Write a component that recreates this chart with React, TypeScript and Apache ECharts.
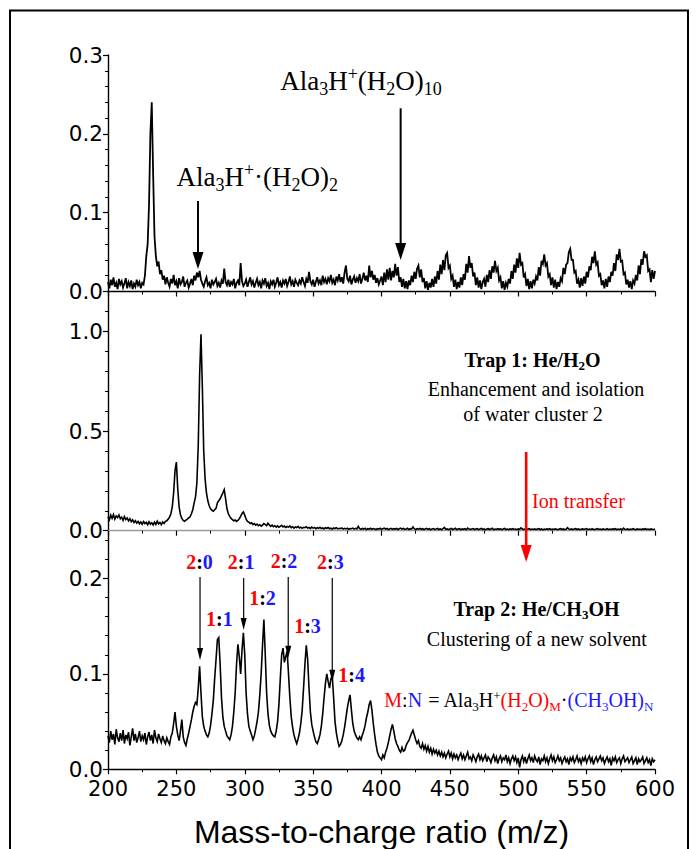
import React, { useEffect, useRef } from 'react';
import * as echarts from 'echarts';

// ---------- DATA ----------
// Sampling grid of the spectra: m/z 200..600, one value per m/z unit
const MZ_START = 200;
const MZ_END = 600;

// Panel 1: no trapping gas (intensity, arb. units)
const panel1Values = [
  0.012, 0.004, 0.015, 0.008, 0.018, 0.006, 0.011, 0.003, 0.016, 0.009,
  0.013, 0.005, 0.010, 0.017, 0.004, 0.012, 0.007, 0.014, 0.003, 0.010,
  0.006, 0.015, 0.008, 0.012, 0.004, 0.011, 0.009, 0.020, 0.045, 0.060,
  0.110, 0.200, 0.240, 0.150, 0.070, 0.045, 0.032, 0.038, 0.022, 0.027,
  0.015, 0.020, 0.009, 0.018, 0.011, 0.006, 0.016, 0.010, 0.021, 0.008,
  0.013, 0.004, 0.017, 0.009, 0.012, 0.019, 0.006, 0.011, 0.014, 0.005,
  0.010, 0.016, 0.008, 0.020, 0.014, 0.024, 0.018, 0.026, 0.015, 0.010,
  0.006, 0.013, 0.018, 0.008, 0.011, 0.004, 0.015, 0.009, 0.012, 0.016,
  0.007, 0.011, 0.005, 0.014, 0.010, 0.029, 0.012, 0.008, 0.015, 0.006,
  0.012, 0.009, 0.016, 0.004, 0.011, 0.014, 0.008, 0.036, 0.013, 0.007,
  0.010, 0.015, 0.006, 0.012, 0.018, 0.009, 0.013, 0.005, 0.011, 0.016,
  0.008, 0.012, 0.004, 0.014, 0.010, 0.017, 0.007, 0.011, 0.003, 0.013,
  0.009, 0.015, 0.006, 0.011, 0.018, 0.008, 0.012, 0.005, 0.014, 0.010,
  0.016, 0.007, 0.012, 0.019, 0.009, 0.013, 0.006, 0.015, 0.011, 0.008,
  0.014, 0.010, 0.018, 0.012, 0.007, 0.016, 0.011, 0.025, 0.013, 0.009,
  0.015, 0.006, 0.012, 0.018, 0.010, 0.014, 0.008, 0.020, 0.012, 0.016,
  0.009, 0.017, 0.013, 0.021, 0.011, 0.015, 0.008, 0.019, 0.014, 0.022,
  0.012, 0.018, 0.010, 0.024, 0.033, 0.016, 0.013, 0.020, 0.009, 0.015,
  0.019, 0.011, 0.017, 0.013, 0.022, 0.010, 0.016, 0.024, 0.014, 0.020,
  0.012, 0.033, 0.018, 0.026, 0.015, 0.021, 0.011, 0.017, 0.009, 0.014,
  0.019, 0.008, 0.024, 0.012, 0.028, 0.015, 0.030, 0.014, 0.026, 0.018,
  0.035, 0.020, 0.031, 0.012, 0.018, 0.006, 0.016, 0.004, 0.013, 0.003,
  0.014, 0.008, 0.020, 0.012, 0.025, 0.016, 0.029, 0.033, 0.018, 0.028,
  0.012, 0.017, 0.004, 0.013, 0.002, 0.011, 0.005, 0.016, 0.006, 0.019,
  0.010, 0.026, 0.015, 0.034, 0.022, 0.040, 0.027, 0.046, 0.049, 0.030,
  0.033, 0.016, 0.020, 0.006, 0.015, 0.003, 0.012, 0.005, 0.018, 0.008,
  0.022, 0.015, 0.035, 0.024, 0.045, 0.030, 0.036, 0.019, 0.024, 0.008,
  0.018, 0.005, 0.014, 0.003, 0.012, 0.016, 0.006, 0.021, 0.012, 0.027,
  0.016, 0.032, 0.024, 0.039, 0.026, 0.030, 0.014, 0.018, 0.004, 0.013,
  0.002, 0.011, 0.006, 0.016, 0.010, 0.026, 0.016, 0.034, 0.024, 0.042,
  0.030, 0.049, 0.034, 0.036, 0.018, 0.022, 0.007, 0.016, 0.003, 0.013,
  0.004, 0.015, 0.010, 0.019, 0.014, 0.031, 0.020, 0.039, 0.035, 0.047,
  0.033, 0.036, 0.019, 0.022, 0.008, 0.018, 0.005, 0.015, 0.003, 0.012,
  0.006, 0.017, 0.013, 0.030, 0.022, 0.034, 0.036, 0.050, 0.054, 0.040,
  0.040, 0.024, 0.026, 0.010, 0.015, 0.005, 0.017, 0.007, 0.019, 0.010,
  0.025, 0.018, 0.032, 0.027, 0.044, 0.036, 0.051, 0.034, 0.037, 0.020,
  0.022, 0.008, 0.014, 0.004, 0.016, 0.006, 0.019, 0.012, 0.025, 0.020,
  0.036, 0.026, 0.047, 0.040, 0.054, 0.038, 0.039, 0.022, 0.024, 0.009,
  0.015, 0.005, 0.013, 0.003, 0.014, 0.010, 0.021, 0.014, 0.033, 0.022,
  0.041, 0.034, 0.051, 0.044, 0.046, 0.026, 0.028, 0.012, 0.027, 0.016,
  0.026,
];

// Panel 2: Trap 1 He/H2O
const panel2Values = [
  0.070, 0.055, 0.078, 0.062, 0.081, 0.058, 0.074, 0.066, 0.079, 0.060,
  0.068, 0.052, 0.071, 0.056, 0.064, 0.049, 0.060, 0.045, 0.055, 0.041,
  0.050, 0.038, 0.047, 0.035, 0.044, 0.032, 0.046, 0.036, 0.042, 0.030,
  0.045, 0.033, 0.040, 0.029, 0.043, 0.031, 0.048, 0.034, 0.041, 0.030,
  0.044, 0.036, 0.047, 0.050, 0.058, 0.068, 0.085, 0.120, 0.190, 0.300,
  0.344, 0.210, 0.120, 0.080, 0.062, 0.052, 0.047, 0.053, 0.058, 0.064,
  0.070, 0.085, 0.105, 0.140, 0.170, 0.240, 0.430, 0.780, 0.985, 0.720,
  0.400, 0.260, 0.190, 0.150, 0.125, 0.110, 0.102, 0.098, 0.105, 0.112,
  0.140, 0.150, 0.160, 0.175, 0.190, 0.206, 0.160, 0.110, 0.085, 0.072,
  0.062, 0.056, 0.050, 0.054, 0.047, 0.052, 0.060, 0.072, 0.086, 0.094,
  0.078, 0.058, 0.047, 0.043, 0.036, 0.040, 0.031, 0.036, 0.028, 0.033,
  0.025, 0.030, 0.023, 0.028, 0.036, 0.031, 0.025, 0.038, 0.029, 0.022,
  0.028, 0.020, 0.025, 0.018, 0.024, 0.017, 0.022, 0.027, 0.019, 0.023,
  0.016, 0.021, 0.018, 0.024, 0.015, 0.020, 0.013, 0.019, 0.016, 0.022,
  0.014, 0.018, 0.012, 0.017, 0.015, 0.020, 0.013, 0.016, 0.011, 0.018,
  0.013, 0.016, 0.010, 0.015, 0.012, 0.017, 0.011, 0.014, 0.009, 0.015,
  0.012, 0.016, 0.010, 0.013, 0.008, 0.014, 0.011, 0.015, 0.009, 0.012,
  0.010, 0.014, 0.008, 0.012, 0.009, 0.013, 0.007, 0.011, 0.010, 0.013,
  0.008, 0.012, 0.009, 0.022, 0.010, 0.007, 0.011, 0.008, 0.012, 0.006,
  0.010, 0.008, 0.012, 0.007, 0.011, 0.009, 0.006, 0.010, 0.008, 0.012,
  0.007, 0.010, 0.013, 0.008, 0.011, 0.006, 0.009, 0.012, 0.007, 0.010,
  0.008, 0.011, 0.006, 0.010, 0.013, 0.008, 0.011, 0.007, 0.009, 0.012,
  0.006, 0.010, 0.008, 0.019, 0.009, 0.006, 0.010, 0.008, 0.011, 0.007,
  0.010, 0.006, 0.009, 0.012, 0.007, 0.010, 0.005, 0.009, 0.011, 0.006,
  0.008, 0.011, 0.006, 0.009, 0.005, 0.010, 0.016, 0.007, 0.009, 0.005,
  0.008, 0.011, 0.006, 0.009, 0.012, 0.006, 0.008, 0.010, 0.005, 0.009,
  0.007, 0.010, 0.005, 0.013, 0.008, 0.006, 0.009, 0.011, 0.006, 0.008,
  0.010, 0.005, 0.008, 0.011, 0.006, 0.009, 0.004, 0.008, 0.010, 0.006,
  0.009, 0.012, 0.005, 0.008, 0.006, 0.010, 0.007, 0.009, 0.005, 0.008,
  0.011, 0.006, 0.008, 0.005, 0.009, 0.007, 0.010, 0.006, 0.008, 0.005,
  0.009, 0.007, 0.014, 0.008, 0.005, 0.009, 0.006, 0.008, 0.010, 0.005,
  0.008, 0.006, 0.009, 0.005, 0.008, 0.010, 0.006, 0.009, 0.004, 0.008,
  0.006, 0.009, 0.007, 0.010, 0.005, 0.008, 0.006, 0.009, 0.007, 0.005,
  0.008, 0.010, 0.006, 0.009, 0.005, 0.007, 0.015, 0.008, 0.006, 0.009,
  0.005, 0.008, 0.010, 0.006, 0.009, 0.005, 0.007, 0.009, 0.006, 0.008,
  0.010, 0.005, 0.008, 0.006, 0.009, 0.007, 0.005, 0.008, 0.010, 0.006,
  0.008, 0.005, 0.009, 0.007, 0.006, 0.010, 0.005, 0.008, 0.006, 0.009,
  0.007, 0.010, 0.005, 0.008, 0.006, 0.009, 0.005, 0.013, 0.007, 0.006,
  0.009, 0.005, 0.008, 0.006, 0.010, 0.007, 0.005, 0.009, 0.006, 0.008,
  0.005, 0.009, 0.007, 0.010, 0.006, 0.008, 0.005, 0.009, 0.007, 0.006,
  0.008,
];

// Panel 3: Trap 2 He/CH3OH
const panel3Values = [
  0.035, 0.028, 0.040, 0.031, 0.037, 0.026, 0.042, 0.033, 0.029, 0.038,
  0.030, 0.041, 0.027, 0.036, 0.032, 0.039, 0.025, 0.034, 0.043, 0.030,
  0.037, 0.028, 0.033, 0.040, 0.029, 0.035, 0.031, 0.038, 0.026, 0.034,
  0.039, 0.030, 0.036, 0.027, 0.041, 0.033, 0.029, 0.037, 0.032, 0.028,
  0.035, 0.030, 0.027, 0.033, 0.029, 0.026, 0.034, 0.038, 0.048, 0.060,
  0.045, 0.036, 0.030, 0.040, 0.052, 0.034, 0.028, 0.025, 0.032, 0.038,
  0.045, 0.052, 0.060, 0.066, 0.070, 0.068, 0.085, 0.108, 0.080, 0.055,
  0.045, 0.040, 0.036, 0.034, 0.038, 0.046, 0.058, 0.072, 0.095, 0.115,
  0.136, 0.138, 0.110, 0.075, 0.055, 0.045, 0.040, 0.035, 0.033, 0.031,
  0.036, 0.045, 0.060, 0.080, 0.110, 0.131, 0.118, 0.100, 0.125, 0.143,
  0.120, 0.080, 0.058, 0.045, 0.040, 0.036, 0.031, 0.035, 0.042, 0.050,
  0.060, 0.078, 0.100, 0.130, 0.157, 0.120, 0.080, 0.058, 0.046, 0.040,
  0.037, 0.035, 0.034, 0.040, 0.050, 0.068, 0.095, 0.120, 0.127, 0.112,
  0.118, 0.124, 0.100, 0.075, 0.055, 0.044, 0.036, 0.031, 0.027, 0.032,
  0.038, 0.048, 0.062, 0.085, 0.110, 0.130, 0.115, 0.085, 0.060, 0.047,
  0.040, 0.034, 0.029, 0.027, 0.031, 0.036, 0.045, 0.058, 0.075, 0.090,
  0.100, 0.092, 0.085, 0.095, 0.098, 0.075, 0.050, 0.038, 0.030, 0.024,
  0.026, 0.030, 0.036, 0.044, 0.054, 0.064, 0.072, 0.078, 0.062, 0.048,
  0.040, 0.036, 0.033, 0.031, 0.034, 0.031, 0.036, 0.040, 0.046, 0.054,
  0.060, 0.068, 0.072, 0.062, 0.048, 0.036, 0.026, 0.018, 0.014, 0.012,
  0.010, 0.015, 0.012, 0.018, 0.022, 0.028, 0.035, 0.042, 0.047, 0.040,
  0.032, 0.027, 0.024, 0.020, 0.018, 0.023, 0.019, 0.020, 0.025, 0.028,
  0.030, 0.034, 0.038, 0.041, 0.036, 0.031, 0.027, 0.030, 0.024, 0.022,
  0.027, 0.021, 0.025, 0.019, 0.024, 0.018, 0.022, 0.016, 0.021, 0.017,
  0.020, 0.015, 0.019, 0.014, 0.018, 0.013, 0.017, 0.012, 0.016, 0.019,
  0.013, 0.017, 0.011, 0.016, 0.012, 0.015, 0.010, 0.014, 0.017, 0.011,
  0.015, 0.010, 0.014, 0.018, 0.011, 0.013, 0.009, 0.015, 0.012, 0.008,
  0.013, 0.016, 0.010, 0.014, 0.009, 0.012, 0.015, 0.008, 0.013, 0.011,
  0.007, 0.012, 0.015, 0.009, 0.013, 0.006, 0.011, 0.014, 0.008, 0.012,
  0.010, 0.015, 0.008, 0.012, 0.006, 0.011, 0.014, 0.009, 0.013, 0.007,
  0.012, 0.002, 0.010, 0.014, 0.008, 0.013, 0.006, 0.011, 0.015, 0.009,
  0.012, 0.007, 0.014, 0.010, 0.008, 0.013, 0.005, 0.011, 0.009, 0.014,
  0.008, 0.012, 0.006, 0.011, 0.015, 0.009, 0.013, 0.007, 0.010, 0.014,
  0.009, 0.012, 0.006, 0.010, 0.013, 0.008, 0.011, 0.005, 0.012, 0.009,
  0.013, 0.007, 0.010, 0.014, 0.008, 0.011, 0.006, 0.012, 0.009, 0.013,
  0.007, 0.011, 0.014, 0.008, 0.012, 0.005, 0.010, 0.013, 0.008, 0.011,
  0.014, 0.009, 0.012, 0.006, 0.010, 0.013, 0.008, 0.011, 0.004, 0.012,
  0.009, 0.013, 0.007, 0.010, 0.012, 0.006, 0.011, 0.014, 0.008, 0.010,
  0.012, 0.007, 0.010, 0.013, 0.006, 0.009, 0.012, 0.005, 0.011, 0.008,
  0.010, 0.013, 0.006, 0.009, 0.012, 0.007, 0.010, 0.004, 0.011, 0.008,
  0.010,
];

// Axis ticks
const xTickStep = 50;
const p1YMax = 0.3;
const p2YMax = 1.2;
const p3YMax = 0.25;
const p1YTicks = [0, 0.1, 0.2, 0.3];
const p2YTicks = [0, 0.5, 1.0];
const p3YTicks = [0, 0.1, 0.2];
const p1YMinor = [0.02, 0.04, 0.06, 0.08, 0.12, 0.14, 0.16, 0.18, 0.22, 0.24, 0.26, 0.28];
const p2YMinor = [0.1, 0.2, 0.3, 0.4, 0.6, 0.7, 0.8, 0.9, 1.1];
const p3YMinor = [0.02, 0.04, 0.06, 0.08, 0.12, 0.14, 0.16, 0.18, 0.22, 0.24];

const xTitle = 'Mass-to-charge ratio (m/z)';

// Annotation arrows: [m/z, value at tail, value at tip]
const p1Arrows = [
  [265.8, 0.1148, 0.0285],
  [414.0, 0.2324, 0.040],
];
const p3Arrows = [
  [267.3, 0.2015, 0.1145],
  [299.2, 0.2004, 0.1459],
  [331.8, 0.2015, 0.1169],
  [364.0, 0.2004, 0.0918],
];
// Ion transfer arrow: m/z, tail value in panel 2, tip value in panel 3
const ionTransfer = { mz: 505.8, from: 0.3948, to: 0.2172 };

// M:N assignment labels (panel 3): [M, N, m/z, value]
const mnLabels = [
  ['2', '0', 266.9, 0.2175],
  ['2', '1', 297.3, 0.2172],
  ['2', '2', 328.7, 0.2186],
  ['2', '3', 362.6, 0.2172],
  ['1', '1', 281.5, 0.1575],
  ['1', '2', 313.0, 0.1795],
  ['1', '3', 345.9, 0.1502],
  ['1', '4', 378.1, 0.0988],
];

// ---------- STYLE ----------
const SERIF = '"Liberation Serif", "Times New Roman", serif';
const SANS = '"Liberation Sans", Arial, sans-serif';
const TICKFONT = '"DejaVu Sans", sans-serif';
const RED = '#ff0000';
const BLUE = '#1a1aff';
const BLACK = '#000000';

function makeRich(F: number, weight: string) {
  const s = Math.round(F * 0.65);
  const mk = (fill: string, kind: string) => {
    const base: any = { fontFamily: SERIF, fontWeight: weight, fill };
    if (kind === 'n') return { ...base, fontSize: F, lineHeight: F * 1.1, verticalAlign: 'middle' };
    if (kind === 'sub') return { ...base, fontSize: s, height: F * 0.51, verticalAlign: 'bottom' };
    return { ...base, fontSize: s, height: F * 0.57, verticalAlign: 'top' };
  };
  return {
    k: mk(BLACK, 'n'), r: mk(RED, 'n'), b: mk(BLUE, 'n'),
    ks: mk(BLACK, 'sub'), rs: mk(RED, 'sub'), bs: mk(BLUE, 'sub'),
    kp: mk(BLACK, 'sup'),
  };
}

const mzAxis = Array.from({ length: MZ_END - MZ_START + 1 }, (_, i) => MZ_START + i);
const toSeries = (vals: number[]) => vals.map((v, i) => [mzAxis[i], v]);

const GRIDS = [
  { left: 108, right: 42, top: 55, height: 236.5 },
  { left: 108, right: 42, top: 291.5, height: 239.2 },
  { left: 108, right: 42, top: 530.7, height: 238.6 },
];

function buildOption() {
  const yMax = [p1YMax, p2YMax, p3YMax];
  const yTicks = [p1YTicks, p2YTicks, p3YTicks];
  const yMinor = [p1YMinor, p2YMinor, p3YMinor];
  const yStep = [0.1, 0.5, 0.1];
  const yMinorStep = [0.02, 0.1, 0.02];
  const xAxis = [0, 1, 2].map((i) => ({
    type: 'value',
    gridIndex: i,
    min: MZ_START,
    max: MZ_END,
    interval: xTickStep,
    axisLine: { show: true, onZero: false, lineStyle: { color: i === 1 ? '#9a9a9a' : BLACK, width: 1.4 } },
    axisTick: { show: true, length: 5, lineStyle: { color: BLACK, width: 1.2 } },
    minorTick: { show: true, splitNumber: 2, length: 3, lineStyle: { color: BLACK, width: 1 } },
    splitLine: { show: false },
    axisLabel: { show: i === 2, color: BLACK, fontFamily: TICKFONT, fontSize: 21, margin: 9 },
    name: i === 2 ? xTitle : '',
    nameLocation: 'middle',
    nameGap: 47,
    nameTextStyle: { color: BLACK, fontFamily: SANS, fontSize: 32 },
  }));
  const yAxis: any[] = [];
  [0, 1, 2].forEach((i) => {
    yAxis.push({
      type: 'value', gridIndex: i, position: 'left', offset: 0,
      min: 0, max: yMax[i], interval: yStep[i],
      axisLine: { show: true, onZero: false, lineStyle: { color: BLACK, width: 1.4 } },
      axisTick: { show: true, length: 5, customValues: yTicks[i], lineStyle: { color: BLACK, width: 1.2 } },
      axisLabel: {
        show: true, customValues: yTicks[i], color: BLACK, fontFamily: TICKFONT, fontSize: 21.5, margin: 5,
        formatter: (v: number) => v.toFixed(1),
      },
      splitLine: { show: false },
    });
    yAxis.push({
      type: 'value', gridIndex: i, position: 'left', offset: 0,
      min: 0, max: yMax[i], interval: yMinorStep[i],
      axisLine: { show: false },
      axisTick: { show: true, length: 3, customValues: yMinor[i], lineStyle: { color: BLACK, width: 1 } },
      axisLabel: { show: false },
      splitLine: { show: false },
    });
  });
  const vals = [panel1Values, panel2Values, panel3Values];
  const series = [0, 1, 2].map((i) => ({
    type: 'line',
    xAxisIndex: i,
    yAxisIndex: i * 2,
    data: toSeries(vals[i]),
    showSymbol: false,
    symbol: 'none',
    silent: true,
    lineStyle: { color: BLACK, width: i === 0 ? 1.8 : 1.6, join: 'miter' },
  }));
  return {
    animation: false,
    backgroundColor: '#ffffff',
    grid: GRIDS.map((g) => ({ ...g, containLabel: false, outerBoundsMode: 'none' })),
    xAxis,
    yAxis,
    series,
  };
}

function arrow(x: number, y1: number, y2: number, w: number, h: number, lw: number, color: string) {
  return [
    { type: 'line', silent: true, z: 100, shape: { x1: x, y1, x2: x, y2: y2 - h + 1 }, style: { stroke: color, lineWidth: lw } },
    { type: 'polygon', silent: true, z: 100, shape: { points: [[x - w / 2, y2 - h], [x + w / 2, y2 - h], [x, y2]] }, style: { fill: color } },
  ];
}

function richText(x: number, y: number, text: string, rich: any, align = 'center') {
  return {
    type: 'text', silent: true, z: 100, x, y,
    style: { text, rich, align, textAlign: align, verticalAlign: 'middle', textVerticalAlign: 'middle', fill: BLACK, fontFamily: SERIF },
  };
}

function buildGraphics(chart: any) {
  const px = (panel: number, mz: number, v: number) =>
    chart.convertToPixel({ xAxisIndex: panel, yAxisIndex: panel * 2 }, [mz, v]);
  const els: any[] = [];
  // frame
  els.push({ type: 'rect', silent: true, z: 100, shape: { x: 10, y: 10.5, width: 678, height: 900 }, style: { fill: 'none', stroke: BLACK, lineWidth: 2 } });

  // panel 1
  const r27 = makeRich(27, 'normal');
  let p = px(0, 385, 0.267);
  els.push(richText(p[0], p[1], '{k|Ala}{ks|3}{k|H}{kp|+}{k|(H}{ks|2}{k|O)}{ks|10}', r27));
  p = px(0, 309.1, 0.1452);
  els.push(richText(p[0], p[1], '{k|Ala}{ks|3}{k|H}{kp|+}{k|·(H}{ks|2}{k|O)}{ks|2}', r27));
  p1Arrows.forEach(([mz, a, b]) => {
    const t = px(0, mz, a);
    const e = px(0, mz, b);
    els.push(...arrow(t[0], t[1], e[1], 11, 17, 2, BLACK));
  });

  // panel 2
  const r20b = makeRich(20, 'bold');
  const r20 = makeRich(20, 'normal');
  p = px(1, 510.4, 0.8564);
  els.push(richText(p[0], p[1], '{k|Trap 1: He/H}{ks|2}{k|O}', r20b));
  p = px(1, 513.0, 0.7094);
  els.push(richText(p[0], p[1], '{k|Enhancement and isolation}', r20));
  p = px(1, 510.8, 0.584);
  els.push(richText(p[0], p[1], '{k|of water cluster 2}', r20));
  p = px(1, 510.1, 0.1515);
  els.push(richText(p[0], p[1], '{r|Ion transfer}', r20, 'left'));
  const t0 = px(1, ionTransfer.mz, ionTransfer.from);
  const t1 = px(2, ionTransfer.mz, ionTransfer.to);
  els.push(...arrow(t0[0], t0[1], t1[1], 11, 17, 2.6, RED));

  // panel 3
  p = px(2, 513.3, 0.168);
  els.push(richText(p[0], p[1], '{k|Trap 2: He/CH}{ks|3}{k|OH}', r20b));
  p = px(2, 513.6, 0.1365);
  els.push(richText(p[0], p[1], '{k|Clustering of a new solvent}', r20));
  p = px(2, 598.8, 0.0721);
  els.push(richText(p[0], p[1], '{r|M}{k|:}{b|N}{k| = Ala}{ks|3}{k|H}{kp|+}{r|(H}{rs|2}{r|O)}{rs|M}{k|·}{b|(CH}{bs|3}{b|OH)}{bs|N}', r20, 'right'));
  p3Arrows.forEach(([mz, a, b]) => {
    const t = px(2, mz, a);
    const e = px(2, mz, b);
    els.push(...arrow(t[0], t[1], e[1], 6, 12, 1.2, BLACK));
  });
  mnLabels.forEach(([m, n, mz, v]) => {
    const q = px(2, mz as number, v as number);
    els.push(richText(q[0], q[1], `{r|${m}}{k|:}{b|${n}}`, r20b));
  });
  return els;
}

export default function App() {
  const ref = useRef<HTMLDivElement>(null);
  useEffect(() => {
    document.body.style.margin = '0';
    const chart = echarts.init(ref.current as HTMLDivElement, undefined, { renderer: 'svg', width: 697, height: 849 });
    chart.setOption(buildOption() as any);
    chart.setOption({ graphic: buildGraphics(chart) } as any);
    return () => chart.dispose();
  }, []);
  return (
    <div
      ref={ref}
      style={{ position: 'absolute', left: 0, top: 0, width: 697, height: 849, background: '#fff' }}
    />
  );
}
